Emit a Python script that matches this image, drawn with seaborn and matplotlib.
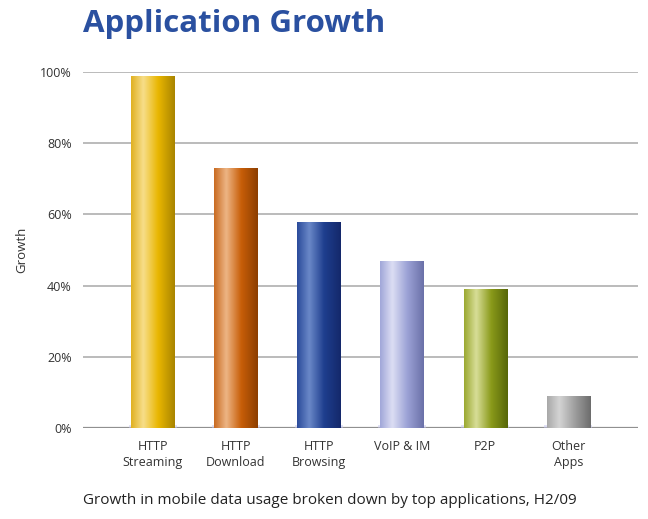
import numpy as np
import pandas as pd
import matplotlib
matplotlib.use("Agg")
import matplotlib.pyplot as plt
import seaborn as sns
from matplotlib.colors import LinearSegmentedColormap

categories = ["HTTP\nStreaming", "HTTP\nDownload", "HTTP\nBrowsing", "VoIP & IM", "P2P", "Other\nApps"]
growth = [99, 73, 58, 47, 39, 9]
yticks = [0, 20, 40, 60, 80, 100]
ytick_labels = ["0%", "20%", "40%", "60%", "80%", "100%"]
# (edge-left, highlight, main, dark-right)
bar_shades = [
    ["#E0B020", "#F7DE8A", "#E9B600", "#A88400"],
    ["#C86A20", "#EDB585", "#C85E08", "#8C3E00"],
    ["#2A4A9A", "#6A88C8", "#1E3E8E", "#14286A"],
    ["#A0A6D8", "#DCDEF4", "#9CA2D6", "#6A70A8"],
    ["#9AA830", "#D8DE98", "#8A9A1A", "#566608"],
    ["#A8A8A8", "#D4D4D4", "#A0A0A0", "#6C6C6C"],
]

sns.set_theme(style="white")
plt.rcParams['font.family'] = ['Open Sans', 'DejaVu Sans']

df = pd.DataFrame({"app": categories, "growth": growth})

fig = plt.figure(figsize=(6.48, 5.19), dpi=100)
ax = fig.add_axes([83/648, (519-428)/519, (638-83)/648, (428-72)/519])

sns.barplot(data=df, x="app", y="growth", ax=ax, width=0.52, color="white",
            edgecolor="none", zorder=3)

ax.set_xlim(-0.84, 5.84)
ax.set_ylim(0, 100)
ax.set_yticks(yticks)
ax.set_yticklabels(ytick_labels, fontsize=9, color="#333333")
for y in yticks:
    ax.axhline(y, color="#a8a8a8" if y else "#909090", lw=1.1 if y else 1.6, zorder=1)
for s in ax.spines.values():
    s.set_visible(False)
ax.tick_params(axis="both", length=0, pad=8)
ax.tick_params(axis="x", labelsize=9, labelcolor="#333333", pad=9)
ax.set_xlabel("")
ax.set_ylabel("")
for lab in ax.get_xticklabels():
    lab.set_linespacing(1.25)
    lab.set_verticalalignment("top")

# gradient fills
for patch, shades in zip(ax.patches, bar_shades):
    x0, y0 = patch.get_x(), patch.get_y()
    w, h = patch.get_width(), patch.get_height()
    cmap = LinearSegmentedColormap.from_list("g", list(zip([0, 0.28, 0.62, 1.0], shades)))
    grad = np.linspace(0, 1, 256).reshape(1, -1)
    im = ax.imshow(grad, extent=[x0, x0 + w, y0, y0 + h], aspect="auto", cmap=cmap,
                   zorder=4, interpolation="bicubic")
    im.set_clip_path(patch)
    # soft shadow under bar
    ax.add_patch(plt.Rectangle((x0 - 0.03, -0.3), w + 0.06, 1.2, color="#c8c8f0",
                               alpha=0.5, zorder=2, lw=0))

ax.set_xlim(-0.84, 5.84)
ax.set_ylim(0, 100)

fig.text(22/648, 1 - 250/519, "Growth", fontsize=9.5, color="#333333", rotation=90,
         va="center", ha="center")
fig.text(83/648, 1 - 24/519, "Application Growth", fontsize=22.5, fontweight="bold",
         color="#2A50A0", va="center", ha="left", family=["Open Sans", "DejaVu Sans"])
fig.text(83/648, 1 - 500/519, "Growth in mobile data usage broken down by top applications, H2/09",
         fontsize=11, color="#222222", va="center", ha="left")

fig.savefig("out.png", dpi=100, facecolor="white")
